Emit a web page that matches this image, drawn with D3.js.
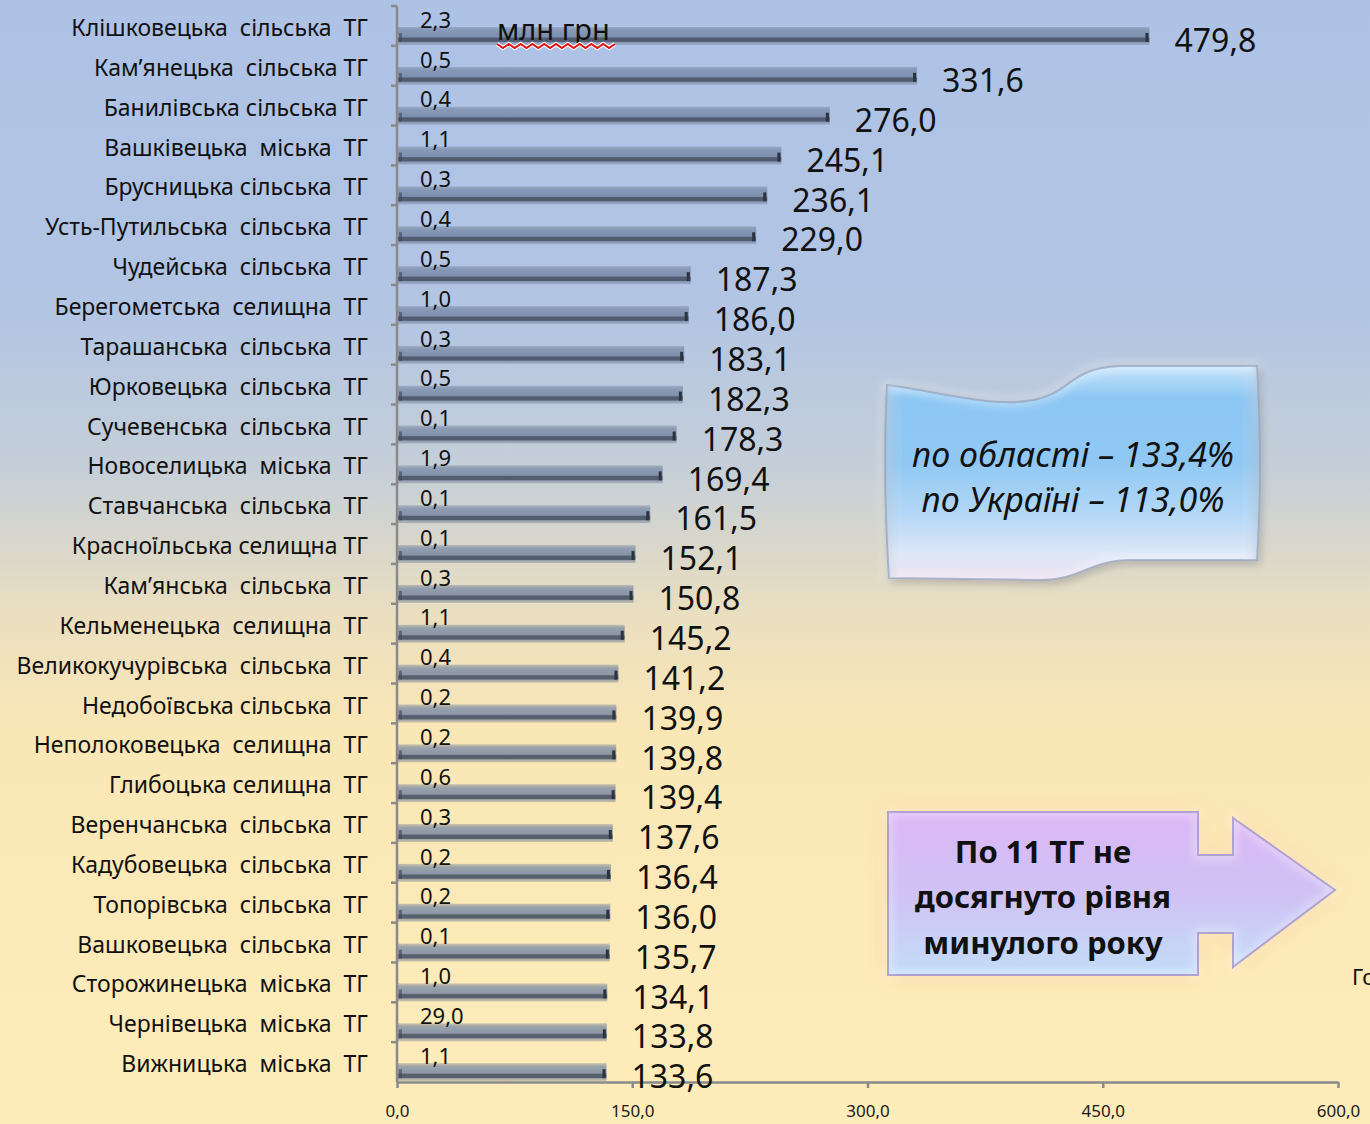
<!DOCTYPE html>
<html><head><meta charset="utf-8">
<script src="https://cdn.jsdelivr.net/npm/d3@7"></script>
<style>
html,body{margin:0;padding:0;background:#fff;}
svg{display:block;}
text{font-family:"Noto Sans",sans-serif;white-space:pre;}
</style></head>
<body>
<svg id="chart" width="1370" height="1124"></svg>
<script>
const categories = [
  "Клішковецька  сільська  ТГ",
  "Кам’янецька  сільська ТГ",
  "Банилівська сільська ТГ",
  "Вашківецька  міська  ТГ",
  "Брусницька сільська  ТГ",
  "Усть-Путильська  сільська  ТГ",
  "Чудейська  сільська  ТГ",
  "Берегометська  селищна  ТГ",
  "Тарашанська  сільська  ТГ",
  "Юрковецька  сільська  ТГ",
  "Сучевенська  сільська  ТГ",
  "Новоселицька  міська  ТГ",
  "Ставчанська  сільська  ТГ",
  "Красноїльська селищна ТГ",
  "Кам’янська  сільська  ТГ",
  "Кельменецька  селищна  ТГ",
  "Великокучурівська  сільська  ТГ",
  "Недобоївська сільська  ТГ",
  "Неполоковецька  селищна  ТГ",
  "Глибоцька селищна  ТГ",
  "Веренчанська  сільська  ТГ",
  "Кадубовецька  сільська  ТГ",
  "Топорівська  сільська  ТГ",
  "Вашковецька  сільська  ТГ",
  "Сторожинецька  міська  ТГ",
  "Чернівецька  міська  ТГ",
  "Вижницька  міська  ТГ"
];
const percentValues = [479.8,331.6,276.0,245.1,236.1,229.0,187.3,186.0,183.1,182.3,178.3,169.4,161.5,152.1,150.8,145.2,141.2,139.9,139.8,139.4,137.6,136.4,136.0,135.7,134.1,133.8,133.6];
const amountValues = [2.3,0.5,0.4,1.1,0.3,0.4,0.5,1.0,0.3,0.5,0.1,1.9,0.1,0.1,0.3,1.1,0.4,0.2,0.2,0.6,0.3,0.2,0.2,0.1,1.0,29.0,1.1];
const xTicks = [0,150,300,450,600];
const unitLabel = "млн грн";
const flagLines = ["по області – 133,4%","по Україні – 113,0%"];
const arrowLines = ["По 11 ТГ не","досягнуто рівня","минулого року"];
const cutText = "Го";

const fmt = v => v.toFixed(1).replace('.', ',');
const svg = d3.select("#chart");
const defs = svg.append("defs");

// background
const bg = defs.append("linearGradient").attr("id","bg").attr("x1",0).attr("y1",0).attr("x2",0).attr("y2",1);
[[0,"#aec2e6"],[0.28,"#b2c5e3"],[0.42,"#c6cfd8"],[0.55,"#ebdfbf"],[0.65,"#fae7b6"],[1,"#feecba"]].forEach(s=>bg.append("stop").attr("offset",s[0]).attr("stop-color",s[1]));
svg.append("rect").attr("width",1370).attr("height",1124).attr("fill","url(#bg)");

// bar gradient
const bgBar = defs.append("linearGradient").attr("id","bar").attr("x1",0).attr("y1",0).attr("x2",0).attr("y2",1);
[[0,"rgba(110,125,150,0.35)"],[0.12,"rgba(110,125,150,0.55)"],[0.2,"rgba(120,138,168,0.75)"],[0.55,"rgba(112,130,160,0.8)"],[0.62,"rgba(70,80,100,0.9)"],[0.8,"rgba(70,80,100,0.9)"],[0.86,"rgba(110,125,150,0.6)"],[1,"rgba(120,130,150,0.35)"]].forEach(s=>bgBar.append("stop").attr("offset",s[0]).attr("stop-color",s[1]));

const x = d3.scaleLinear().domain([0,600]).range([397,1338]);
const y = d3.scaleBand().domain(categories).range([6,1082]).padding(0);

// bars
const rows = categories.map((c,i)=>({c, p:percentValues[i], a:amountValues[i]}));
const bars = svg.append("g");
bars.selectAll("rect.bar").data(rows).join("rect").attr("class","bar")
  .attr("x", x(0)+1).attr("y", d=>y(d.c)+21).attr("width", d=>x(d.p)-x(0)-1).attr("height",18)
  .attr("fill","url(#bar)");
bars.selectAll("rect.cap").data(rows).join("rect").attr("class","cap")
  .attr("x", d=>x(d.p)-4).attr("y", d=>y(d.c)+27).attr("width",3).attr("height",9)
  .attr("fill","#2c3340");
bars.selectAll("rect.lcap").data(rows).join("rect").attr("class","lcap")
  .attr("x", x(0)+2).attr("y", d=>y(d.c)+27).attr("width",3).attr("height",9)
  .attr("fill","rgba(60,70,90,0.6)");

// y axis line and boundary ticks
const ax = svg.append("g").attr("stroke","#8a8a8a").attr("stroke-width",2.5);
ax.append("line").attr("x1",x(0)).attr("x2",x(0)).attr("y1",y.range()[0]).attr("y2",y.range()[1]);
ax.selectAll("line.t").data(categories).join("line").attr("class","t")
  .attr("x1",x(0)-6).attr("x2",x(0)).attr("y1",d=>y(d)).attr("y2",d=>y(d));

// x axis
const xAxis = svg.append("g").attr("transform",`translate(0,${y.range()[1]})`)
  .call(d3.axisBottom(x).tickValues(xTicks).tickFormat(fmt).tickSize(6).tickPadding(17).tickSizeOuter(0));
xAxis.select(".domain").attr("stroke","#8a8a8a").attr("stroke-width",2.5);
xAxis.selectAll(".tick line").attr("stroke","#8a8a8a").attr("stroke-width",2.5);
xAxis.selectAll(".tick text").attr("fill","#1a1a1a").style("font-size","17px").style("font-family","'Noto Sans',sans-serif");

// category labels
svg.append("g").selectAll("text").data(rows).join("text")
  .attr("x",368).attr("y",d=>y(d.c)+22).attr("dy","0.35em").attr("text-anchor","end")
  .style("font-size","23px").attr("fill","#111").text(d=>d.c);

// small amount labels
svg.append("g").selectAll("text").data(rows).join("text")
  .attr("x",420).attr("y",d=>y(d.c)+14).attr("dy","0.35em")
  .style("font-size","22px").attr("fill","#111").text(d=>fmt(d.a));

// big percent labels
svg.append("g").selectAll("text").data(rows).join("text")
  .attr("x",d=>x(d.p)+25).attr("y",d=>y(d.c)+35).attr("dy","0.35em")
  .style("font-size","32px").attr("fill","#111").text(d=>fmt(d.p));

// unit label with wavy underline
svg.append("text").attr("x",497).attr("y",40).style("font-size","29px").attr("fill","#111").text(unitLabel);
{
  let pts=[]; for(let i=0;i<=20;i++){pts.push([497+i*5.9, 44+(i%2?4:0)]);}
  svg.append("path").attr("d",d3.line()(pts)).attr("fill","none").attr("stroke","#fff").attr("stroke-width",4);
  svg.append("path").attr("d",d3.line()(pts)).attr("fill","none").attr("stroke","#e01010").attr("stroke-width",2);
}

// filters
const sh = defs.append("filter").attr("id","shadow").attr("x","-20%").attr("y","-20%").attr("width","140%").attr("height","140%");
sh.append("feGaussianBlur").attr("in","SourceAlpha").attr("stdDeviation",4).attr("result","b");
sh.append("feOffset").attr("in","b").attr("dx",2).attr("dy",3).attr("result","o");
sh.append("feComponentTransfer").attr("in","o").attr("result","oa").append("feFuncA").attr("type","linear").attr("slope",0.35);
const m = sh.append("feMerge"); m.append("feMergeNode").attr("in","oa"); m.append("feMergeNode").attr("in","SourceGraphic");

const glow = defs.append("filter").attr("id","glow").attr("x","-20%").attr("y","-30%").attr("width","140%").attr("height","160%");
glow.append("feGaussianBlur").attr("stdDeviation",9);

const inner = defs.append("filter").attr("id","inner").attr("x","-5%").attr("y","-5%").attr("width","110%").attr("height","110%");
inner.append("feGaussianBlur").attr("in","SourceGraphic").attr("stdDeviation",5);

// flag
const fg = defs.append("linearGradient").attr("id","flag").attr("x1",0).attr("y1",0).attr("x2",0).attr("y2",1);
[[0,"#c6e4fb"],[0.15,"#8cc6f3"],[0.45,"#90c8f3"],[0.7,"#b4d8f6"],[0.88,"#dfe8f8"],[1,"#ecdff0"]].forEach(s=>fg.append("stop").attr("offset",s[0]).attr("stop-color",s[1]));
const fgh = defs.append("linearGradient").attr("id","flagH").attr("x1",0).attr("y1",0).attr("x2",1).attr("y2",0);
[[0,"rgba(90,120,160,0.35)"],[0.05,"rgba(255,255,255,0)"],[0.95,"rgba(255,255,255,0)"],[1,"rgba(90,120,160,0.4)"]].forEach(s=>fgh.append("stop").attr("offset",s[0]).attr("stop-color",s[1]));
const flagPath = "M887,385 C945,392 1010,414 1052,394 C1074,383 1078,368 1120,366 L1257,366 C1261,430 1261,500 1257,560 L1132,560 C1088,560 1082,580 1040,580 L889,578 C884,500 884,440 887,385 Z";
svg.append("path").attr("d",flagPath).attr("fill","url(#flag)").attr("stroke","rgba(110,130,165,0.7)").attr("stroke-width",2).attr("filter","url(#shadow)");
svg.append("path").attr("d",flagPath).attr("fill","url(#flagH)");
svg.append("path").attr("d",flagPath).attr("fill","none").attr("stroke","rgba(255,255,255,0.55)").attr("stroke-width",6).attr("filter","url(#inner)");
svg.append("g").selectAll("text").data(flagLines).join("text")
  .attr("x",1073).attr("y",(d,i)=>455+i*45).attr("dy","0.35em").attr("text-anchor","middle")
  .style("font-size","34px").style("font-style","italic").attr("fill","#111").text(d=>d);

// arrow
const ag = defs.append("linearGradient").attr("id","arrow").attr("x1",0).attr("y1",0).attr("x2",0).attr("y2",1);
[[0,"#dcb6f6"],[0.5,"#d0c2f4"],[1,"#c2dcf8"]].forEach(s=>ag.append("stop").attr("offset",s[0]).attr("stop-color",s[1]));
const arrowPath = "M888,812 L1198,812 L1198,855 L1233,855 L1233,818 L1335,890 L1233,967 L1233,933 L1198,933 L1198,975 L888,975 Z";
svg.append("path").attr("d",arrowPath).attr("fill","#f6c57e").attr("opacity",0.8).attr("filter","url(#glow)");
svg.append("path").attr("d",arrowPath).attr("fill","url(#arrow)").attr("stroke","#9583c2").attr("stroke-width",2);
svg.append("path").attr("d",arrowPath).attr("fill","none").attr("stroke","rgba(255,255,255,0.5)").attr("stroke-width",6).attr("filter","url(#inner)");
svg.append("g").selectAll("text").data(arrowLines).join("text")
  .attr("x",1043).attr("y",(d,i)=>852+i*45.5).attr("dy","0.35em").attr("text-anchor","middle")
  .style("font-size","31px").style("font-weight","bold").attr("fill","#111").text(d=>d);

svg.append("text").attr("x",1352).attr("y",985).style("font-size","22px").attr("fill","#111").text(cutText);
</script>
</body></html>
